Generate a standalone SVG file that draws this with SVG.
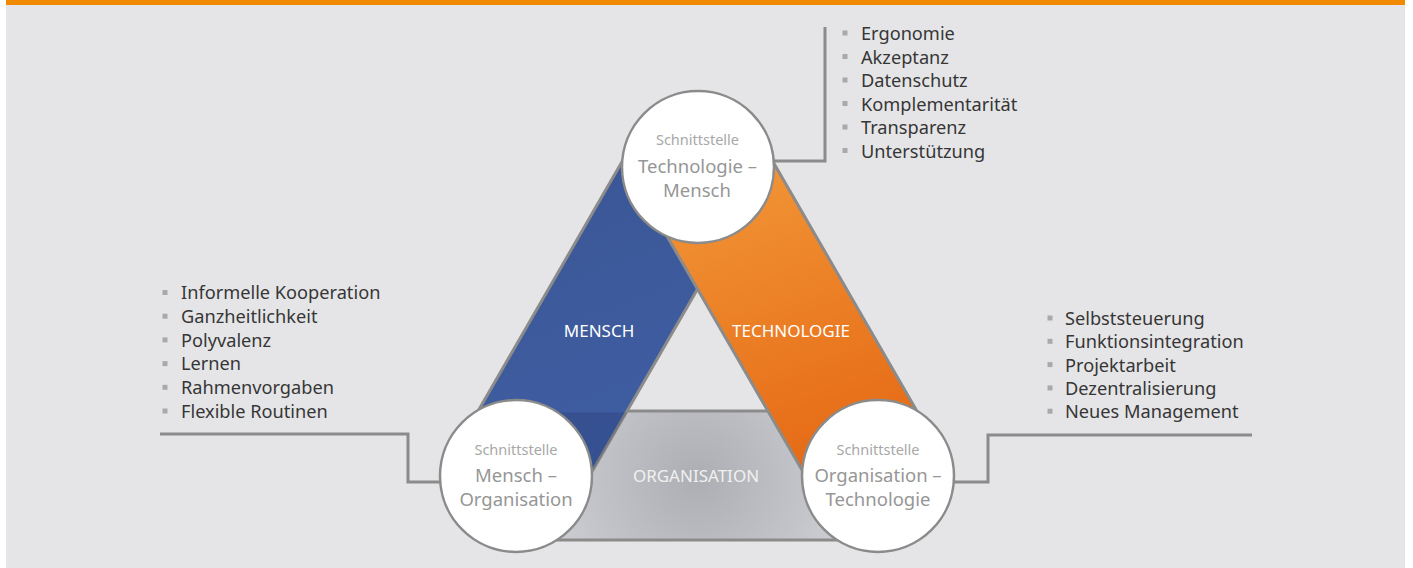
<svg xmlns="http://www.w3.org/2000/svg" width="1413" height="568" viewBox="0 0 1413 568">
<style>
.band{stroke:#8b8b8b;stroke-width:3;stroke-linejoin:round}
.conn{fill:none;stroke:#8b8b8b;stroke-width:3}
.circ{fill:#ffffff;stroke:#8b8b8b;stroke-width:2.5}
.small{font-family:"Noto Sans","Liberation Sans",sans-serif;font-size:14.5px;fill:#a8a8a8;text-anchor:middle}
.main{font-family:"Noto Sans","Liberation Sans",sans-serif;font-size:18.5px;fill:#969696;text-anchor:middle}
.lbl{font-family:"Noto Sans","Liberation Sans",sans-serif;font-size:17px;fill:#ffffff;text-anchor:middle}
.item{font-family:"Noto Sans","Liberation Sans",sans-serif;font-size:18.2px;fill:#363636}
.bul{fill:#a9a9a9}
</style>
<defs>
<linearGradient id="gOr" x1="0" y1="0" x2="0.25" y2="1">
<stop offset="0" stop-color="#f49c3d"/>
<stop offset="1" stop-color="#e56914"/>
</linearGradient>
<linearGradient id="gBl" x1="0" y1="0" x2="0.3" y2="1">
<stop offset="0" stop-color="#3a5593"/>
<stop offset="1" stop-color="#3f5ea3"/>
</linearGradient>
<radialGradient id="gGr" cx="697" cy="478" r="200" gradientUnits="userSpaceOnUse">
<stop offset="0" stop-color="#adaeb4"/>
<stop offset="1" stop-color="#d6d7db"/>
</radialGradient>
</defs>
<rect x="0" y="0" width="1413" height="568" fill="#ffffff"/>
<rect x="6" y="0" width="1399" height="568" fill="#e5e5e7"/>
<rect x="6" y="0" width="1399" height="5" fill="#f28a00"/>

<g id="connectors">
<path class="conn" d="M825,27 V161 H760"/>
<path class="conn" d="M160,434 H408 V482 H450"/>
<path class="conn" d="M1252,435 H988 V482 H940"/>
</g>

<g id="organisation">
<rect class="band" x="516" y="411" width="362" height="129" fill="url(#gGr)"/>
<text class="lbl" x="696" y="482" style="fill:#f0f0f0">ORGANISATION</text>
</g>
<g id="mensch">
<polygon class="band" points="638.75,132.8 750.5,197.3 571.2,507.8 459.5,443.3" fill="url(#gBl)"/>
<polygon points="478.1,412.5 627.1,412.5 571.2,507.8 459.5,443.3" fill="#0a1440" fill-opacity="0.16"/>
<text class="lbl" x="599" y="337">MENSCH</text>
</g>
<g id="technologie">
<polygon class="band" points="756.5,133.2 935.3,442.9 823.6,507.4 644.8,197.7" fill="url(#gOr)"/>
<text class="lbl" x="791" y="337">TECHNOLOGIE</text>
</g>

<g id="schnittstelle-tm">
<circle class="circ" cx="698" cy="167" r="76"/>
<text class="small" x="697.5" y="145">Schnittstelle</text>
<text class="main" x="697.5" y="173">Technologie –</text>
<text class="main" x="697" y="197">Mensch</text>
</g>
<g id="schnittstelle-mo">
<circle class="circ" cx="516" cy="476" r="76"/>
<text class="small" x="516" y="455">Schnittstelle</text>
<text class="main" x="516" y="482">Mensch –</text>
<text class="main" x="516" y="506">Organisation</text>
</g>
<g id="schnittstelle-ot">
<circle class="circ" cx="878" cy="476" r="76"/>
<text class="small" x="878" y="455">Schnittstelle</text>
<text class="main" x="878" y="482">Organisation –</text>
<text class="main" x="878" y="506">Technologie</text>
</g>

<g id="liste-tm">
<rect class="bul" x="842.5" y="30.5" width="5" height="5"/>
<rect class="bul" x="842.5" y="54" width="5" height="5"/>
<rect class="bul" x="842.5" y="77.5" width="5" height="5"/>
<rect class="bul" x="842.5" y="101" width="5" height="5"/>
<rect class="bul" x="842.5" y="124.5" width="5" height="5"/>
<rect class="bul" x="842.5" y="148" width="5" height="5"/>
<text class="item" x="861" y="40">Ergonomie</text>
<text class="item" x="861" y="63.5">Akzeptanz</text>
<text class="item" x="861" y="87">Datenschutz</text>
<text class="item" x="861" y="110.5">Komplementarität</text>
<text class="item" x="861" y="134">Transparenz</text>
<text class="item" x="861" y="157.5">Unterstützung</text>
</g>
<g id="liste-mo">
<rect class="bul" x="162.5" y="290" width="5" height="5"/>
<rect class="bul" x="162.5" y="313.7" width="5" height="5"/>
<rect class="bul" x="162.5" y="337.4" width="5" height="5"/>
<rect class="bul" x="162.5" y="361.1" width="5" height="5"/>
<rect class="bul" x="162.5" y="384.8" width="5" height="5"/>
<rect class="bul" x="162.5" y="408.5" width="5" height="5"/>
<text class="item" x="181" y="299.3">Informelle Kooperation</text>
<text class="item" x="181" y="323">Ganzheitlichkeit</text>
<text class="item" x="181" y="346.7">Polyvalenz</text>
<text class="item" x="181" y="370.4">Lernen</text>
<text class="item" x="181" y="394.1">Rahmenvorgaben</text>
<text class="item" x="181" y="417.8">Flexible Routinen</text>
</g>
<g id="liste-ot">
<rect class="bul" x="1047.5" y="315.5" width="5" height="5"/>
<rect class="bul" x="1047.5" y="338.8" width="5" height="5"/>
<rect class="bul" x="1047.5" y="362.1" width="5" height="5"/>
<rect class="bul" x="1047.5" y="385.4" width="5" height="5"/>
<rect class="bul" x="1047.5" y="408.7" width="5" height="5"/>
<text class="item" x="1065" y="325">Selbststeuerung</text>
<text class="item" x="1065" y="348.3">Funktionsintegration</text>
<text class="item" x="1065" y="371.6">Projektarbeit</text>
<text class="item" x="1065" y="394.9">Dezentralisierung</text>
<text class="item" x="1065" y="418.2">Neues Management</text>
</g>
</svg>
